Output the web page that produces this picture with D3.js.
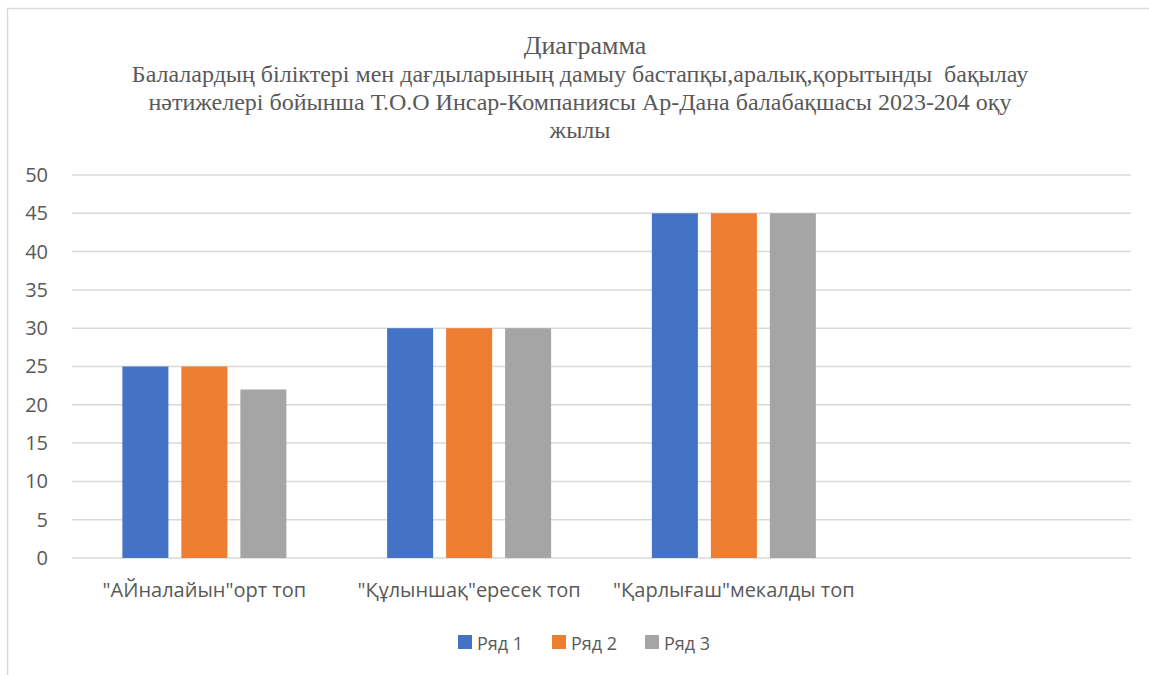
<!DOCTYPE html>
<meta charset="utf-8">
<script src="https://d3js.org/d3.v7.min.js"></script>
<style>
	body {
		margin: 0;
		background: #fff;
	}

	text {
		fill: #595959;
	}

	.title text {
		font-family: "Liberation Serif", "Times New Roman", serif;
	}

	.axis text,
	.legend text {
		font-family: "Open Sans", "Noto Sans", sans-serif;
	}
</style>
<svg width="1149" height="675"></svg>
<script>
	// дані
	var categories = ['"АЙналайын"орт топ', '"Құлыншақ"ересек топ', '"Қарлығаш"мекалды топ', ''],
		seriesNames = ['Ряд 1', 'Ряд 2', 'Ряд 3'],
		row1 = [25, 30, 45, null],
		row2 = [25, 30, 45, null],
		row3 = [22, 30, 45, null],
		yTicks = [0, 5, 10, 15, 20, 25, 30, 35, 40, 45, 50]

	var colors = ['#4472C4', '#ED7D31', '#A5A5A5']
	var titleLines = [
		'Балалардың біліктері мен дағдыларының дамыу бастапқы,аралық,қорытынды  бақылау',
		'нәтижелері бойынша Т.О.О Инсар-Компаниясы Ар-Дана балабақшасы 2023-204 оқу',
		'жылы'
	]

	var svg = d3.select('svg'),
		margin = {
			top: 175,
			right: 18,
			bottom: 117,
			left: 72
		},
		width = +svg.attr('width') - margin.left - margin.right,
		height = +svg.attr('height') - margin.top - margin.bottom

	// рамка
	svg.append('path')
		.attr('d', 'M7.5,675 V8.5 H1149')
		.attr('fill', 'none')
		.attr('stroke', '#d9d9d9')
		.attr('stroke-width', 1.5)

	var g = svg.append('g').attr('transform', 'translate(' + margin.left + ',' + margin.top + ')')

	var data = categories.map(function (c, i) {
		return {
			name: c,
			values: [row1[i], row2[i], row3[i]]
		}
	})

	var x0 = d3.scaleBand().domain(categories).range([0, width]),
		bw = x0.bandwidth(),
		x1 = d3.scaleBand().domain(seriesNames).range([bw / 2 - 82, bw / 2 + 82]).paddingInner(0.22),
		y = d3.scaleLinear().domain([0, 50]).range([height, 0])

	// сітка
	g.append('g')
		.selectAll('line')
		.data(yTicks)
		.enter().append('line')
		.attr('x1', 0)
		.attr('x2', width)
		.attr('y1', function (d) { return y(d) })
		.attr('y2', function (d) { return y(d) })
		.attr('stroke', '#d9d9d9')
		.attr('stroke-width', 1.5)

	var yAxis = g.append('g')
		.attr('class', 'axis')
		.call(d3.axisLeft(y).tickValues(yTicks).tickSize(0).tickPadding(24))
	yAxis.select('.domain').remove()
	yAxis.selectAll('text').attr('font-size', 20).attr('fill', '#595959')

	// стовпці
	var groups = g.selectAll('.grp')
		.data(data)
		.enter().append('g')
		.attr('class', 'grp')
		.attr('transform', function (d) { return 'translate(' + x0(d.name) + ',0)' })

	groups.selectAll('rect')
		.data(function (d) {
			return d.values.map(function (v, i) { return { s: seriesNames[i], v: v, c: colors[i] } })
				.filter(function (e) { return e.v != null })
		})
		.enter().append('rect')
		.attr('x', function (d) { return x1(d.s) })
		.attr('width', x1.bandwidth())
		.attr('y', function (d) { return y(d.v) })
		.attr('height', function (d) { return height - y(d.v) })
		.attr('fill', function (d) { return d.c })

	var xAxis = g.append('g')
		.attr('class', 'axis')
		.attr('transform', 'translate(0,' + height + ')')
		.call(d3.axisBottom(x0).tickSize(0).tickPadding(25))
	xAxis.select('.domain').remove()
	xAxis.selectAll('text').attr('font-size', 20).attr('fill', '#595959')

	// заголовок
	var title = svg.append('g').attr('class', 'title')
	title.append('text')
		.attr('x', 585)
		.attr('y', 54)
		.attr('text-anchor', 'middle')
		.attr('font-size', 26)
		.text('Диаграмма')
	title.selectAll('.sub')
		.data(titleLines)
		.enter().append('text')
		.attr('class', 'sub')
		.attr('x', 580)
		.attr('y', function (d, i) { return 82 + i * 28 })
		.attr('text-anchor', 'middle')
		.attr('font-size', 24)
		.style('white-space', 'pre')
		.text(function (d) { return d })

	// легенда
	var legend = svg.append('g').attr('class', 'legend')
	var lx = [458, 552, 645]
	var li = legend.selectAll('g')
		.data(seriesNames)
		.enter().append('g')
		.attr('transform', function (d, i) { return 'translate(' + lx[i] + ',635)' })
	li.append('rect')
		.attr('width', 14)
		.attr('height', 14)
		.attr('fill', function (d, i) { return colors[i] })
	li.append('text')
		.attr('x', 19)
		.attr('y', 15)
		.attr('font-size', 18)
		.text(function (d) { return d })
</script>
